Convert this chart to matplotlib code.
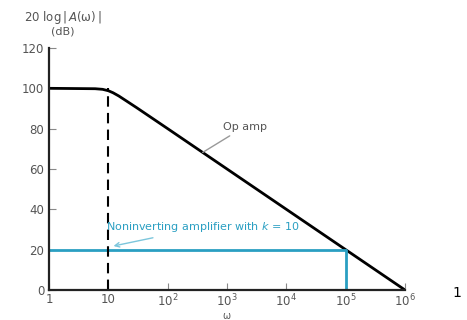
import matplotlib
matplotlib.use("Agg")
import matplotlib.pyplot as plt

# Data
opamp_w = [1, 6, 8, 10, 12, 15, 20, 30, 100, 1e6]
opamp_db = [100, 99.8, 99.5, 98.8, 97.8, 96.2, 93.8, 90.4, 80, 0]
noninv_w = [1, 1e5, 1e5]
noninv_db = [20, 20, 0]
corner_w = [10, 10]
corner_db = [0, 100]
xticks = [1, 10, 100, 1e3, 1e4, 1e5, 1e6]
xticklabels = ["1", "10", "10$^2$", "10$^3$", "10$^4$", "10$^5$", "10$^6$"]
yticks = [0, 20, 40, 60, 80, 100, 120]

plt.rcParams['font.family'] = ['DejaVu Sans']
plt.rcParams['mathtext.default'] = 'regular'

fig = plt.figure(figsize=(4.67, 3.2), dpi=100)
ax = fig.add_axes([0.105, 0.094, 0.762, 0.756])
cyan = '#2a9fc2'
gray = '#555555'

ax.plot(opamp_w, opamp_db, color='black', lw=2.0, solid_capstyle='butt')
ax.plot(noninv_w, noninv_db, color=cyan, lw=2.0)
ax.plot(corner_w, corner_db, color='black', lw=1.5, dashes=(5, 3))

ax.set_xscale('log')
ax.set_xlim(1, 1e6)
ax.set_ylim(0, 120)
ax.set_xticks(xticks)
ax.set_xticklabels(xticklabels)
ax.set_yticks(yticks)
ax.minorticks_off()
ax.tick_params(direction='in', length=5, width=0.8, colors='#888888', labelcolor=gray, labelsize=8.5)
ax.tick_params(axis='x', pad=2)
for s in ['top', 'right']:
    ax.spines[s].set_visible(False)
for s in ['left', 'bottom']:
    ax.spines[s].set_linewidth(1.6)
    ax.spines[s].set_color('#222222')

ax.annotate('Op amp', xy=(3.9e2, 68.2), xytext=(8.5e2, 81), color=gray, fontsize=8,
            ha='left', va='center',
            arrowprops=dict(arrowstyle='-', color='#999999', lw=1, shrinkA=2, shrinkB=0))
ax.annotate('Noninverting amplifier with $\\mathit{k}$ = 10', xy=(11, 21.5), xytext=(9, 31),
            color=cyan, fontsize=8, ha='left', va='center',
            arrowprops=dict(arrowstyle='->', color='#7cc6dc', lw=1))

fig.text(0.135, 0.945, '20 log$\\,|\\,\\mathit{A}(\\omega)\\,|$', ha='center', va='center', fontsize=8.5, color=gray)
fig.text(0.135, 0.902, '(dB)', ha='center', va='center', fontsize=8, color=gray)
fig.text(0.486, 0.012, '$\\omega$', ha='center', va='center', fontsize=7, color=gray)
fig.text(0.978, 0.085, '1', ha='center', va='center', fontsize=10, color='black')

fig.savefig('out.png', dpi=100)
